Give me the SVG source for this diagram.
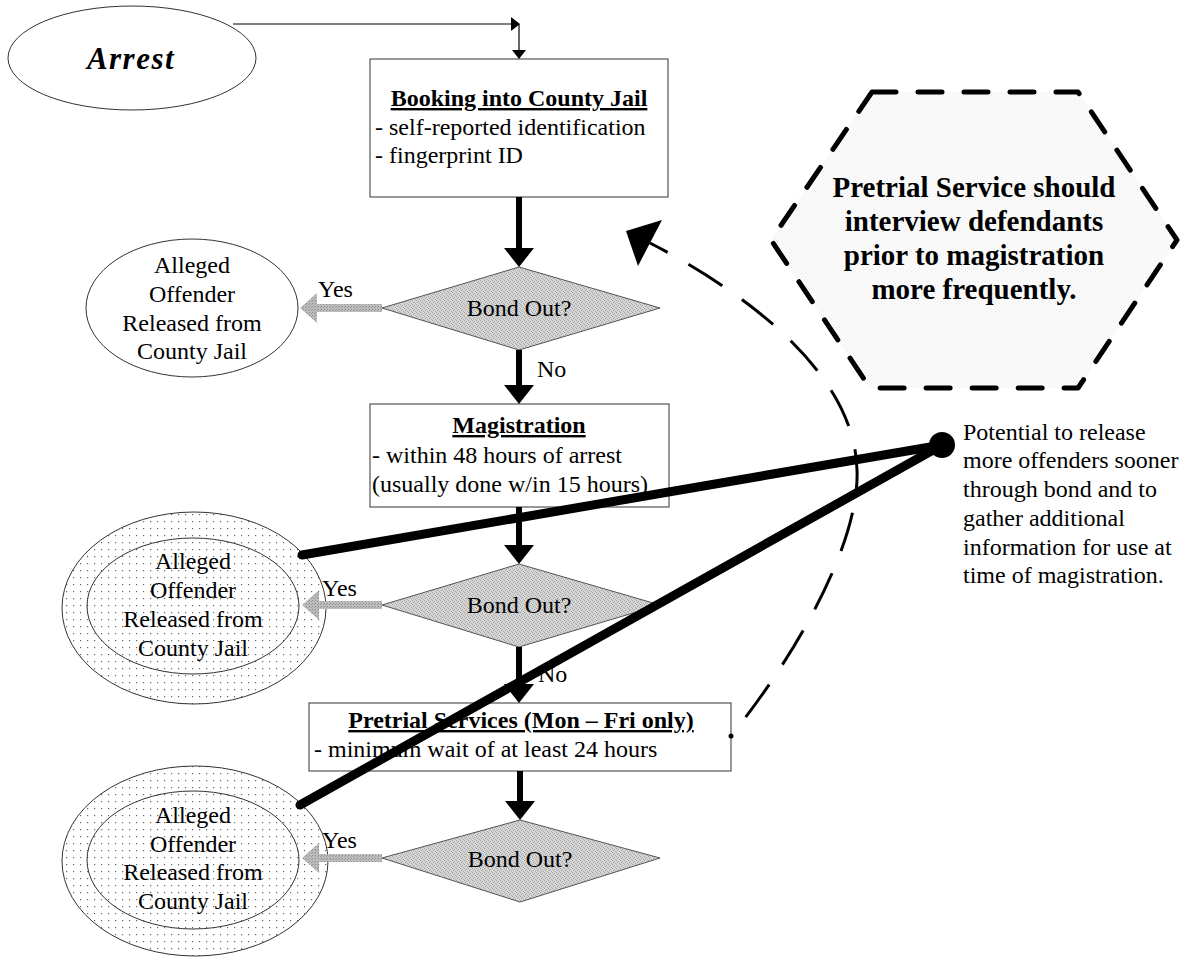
<svg xmlns="http://www.w3.org/2000/svg" width="1191" height="957" viewBox="0 0 1191 957">
<defs>
<style>
text{font-family:"Liberation Serif","Times New Roman",serif;fill:#000}
.t24{font-size:24px}
.b24{font-size:24px;font-weight:bold;text-decoration:underline}
.box{fill:#fff;stroke:#555;stroke-width:1.2}
.ell{fill:#fff;stroke:#333;stroke-width:1}
.dia{fill:url(#stip);stroke:#555;stroke-width:1}
.thin{stroke:#000;stroke-width:1.2;fill:none}
.thick{stroke:#000;stroke-width:6;fill:none}
.yes{fill:url(#stipY)}
.diag{stroke:#000;stroke-width:9;stroke-linecap:round;fill:none}
.c{text-anchor:middle}
.hx{font-size:29px;font-weight:bold}
</style>
<pattern id="dots" width="7" height="7" patternUnits="userSpaceOnUse">
<rect width="7" height="7" fill="#fff"/>
<rect x="3" y="3" width="1.2" height="1.2" fill="#666"/>
</pattern>
<pattern id="stip" width="4" height="4" patternUnits="userSpaceOnUse">
<rect width="4" height="4" fill="#d6d6d6"/>
<rect x="0" y="0" width="1" height="1" fill="#a0a0a0"/>
<rect x="2" y="1" width="1" height="1" fill="#aaa"/>
<rect x="1" y="2" width="1" height="1" fill="#a0a0a0"/>
<rect x="3" y="3" width="1" height="1" fill="#aaa"/>
</pattern>
<pattern id="stipY" width="3" height="3" patternUnits="userSpaceOnUse">
<rect width="3" height="3" fill="#bdbdbd"/>
<rect x="0" y="0" width="1" height="1" fill="#8c8c8c"/>
<rect x="2" y="1" width="1" height="1" fill="#999"/>
</pattern>
<pattern id="light" width="4" height="4" patternUnits="userSpaceOnUse">
<rect width="4" height="4" fill="#fbfbfb"/>
<rect x="1" y="1" width="1" height="1" fill="#e6e6e6"/>
<rect x="3" y="3" width="1" height="1" fill="#ececec"/>
</pattern>
<marker id="hThin" markerUnits="userSpaceOnUse" markerWidth="9" markerHeight="14" viewBox="0 0 9 14" refX="0" refY="7" orient="auto">
<path d="M0,0 L9,7 L0,14 z" fill="#000"/>
</marker>
<marker id="hThick" markerUnits="userSpaceOnUse" markerWidth="19" markerHeight="30" viewBox="0 0 19 30" refX="0" refY="15" orient="auto">
<path d="M0,0 L19,15 L0,30 z" fill="#000"/>
</marker>
</defs>
<rect width="1191" height="957" fill="#fff"/>

<g id="arrest">
<ellipse class="ell" cx="132" cy="58" rx="124" ry="52"/>
<text x="131" y="69" class="c" style="font-size:31px;font-weight:bold;font-style:italic;letter-spacing:1.5px">Arrest</text>
</g>

<g id="booking">
<rect class="box" x="370" y="59" width="298" height="138"/>
<text x="519" y="106" class="b24 c">Booking into County Jail</text>
<text x="375" y="135" class="t24">- self-reported identification</text>
<text x="375" y="163" class="t24">- fingerprint ID</text>
</g>

<g id="bond1">
<polygon class="dia" points="519,267 660,308 519,350 382,308"/>
<text x="519" y="316" class="t24 c">Bond Out?</text>
</g>

<g id="released1">
<ellipse class="ell" cx="192" cy="308" rx="106" ry="69"/>
<text x="192" y="273" class="t24 c">Alleged</text>
<text x="192" y="302" class="t24 c">Offender</text>
<text x="192" y="331" class="t24 c">Released from</text>
<text x="192" y="359" class="t24 c">County Jail</text>
</g>

<g id="magistration">
<rect class="box" x="370" y="404" width="299" height="103"/>
<text x="519" y="433" class="b24 c">Magistration</text>
<text x="372" y="463" class="t24">- within 48 hours of arrest</text>
<text x="372" y="492" class="t24">(usually done w/in 15 hours)</text>
</g>

<g id="bond2">
<polygon class="dia" points="519,564 660,605 519,647 382,605"/>
<text x="519" y="613" class="t24 c">Bond Out?</text>
</g>

<g id="released2">
<ellipse cx="194" cy="608" rx="132" ry="96" fill="url(#dots)" stroke="#333" stroke-width="1"/>
<ellipse cx="193" cy="606" rx="106" ry="68" fill="url(#dots)" stroke="#333" stroke-width="1"/>
<text x="193" y="569" class="t24 c">Alleged</text>
<text x="193" y="598" class="t24 c">Offender</text>
<text x="193" y="627" class="t24 c">Released from</text>
<text x="193" y="656" class="t24 c">County Jail</text>
</g>

<g id="pretrial">
<rect class="box" x="309" y="703" width="422" height="68"/>
<text x="521" y="728" class="b24 c">Pretrial Services (Mon – Fri only)</text>
<text x="314" y="757" class="t24">- minimum wait of at least 24 hours</text>
<circle cx="731" cy="736" r="2.5" fill="#000"/>
</g>

<g id="bond3">
<polygon class="dia" points="520,820 660,858 520,902 382,858"/>
<text x="520" y="867" class="t24 c">Bond Out?</text>
</g>

<g id="released3">
<ellipse cx="195" cy="861" rx="133" ry="95" fill="url(#dots)" stroke="#333" stroke-width="1"/>
<ellipse cx="193" cy="860" rx="106" ry="69" fill="url(#dots)" stroke="#333" stroke-width="1"/>
<text x="193" y="823" class="t24 c">Alleged</text>
<text x="193" y="852" class="t24 c">Offender</text>
<text x="193" y="880" class="t24 c">Released from</text>
<text x="193" y="909" class="t24 c">County Jail</text>
</g>

<g id="recommendation">
<polygon points="872,92 1078,92 1177,240 1078,388 870,388 771,240" fill="url(#light)" stroke="#000" stroke-width="5" stroke-dasharray="24 22" stroke-linecap="round" stroke-linejoin="round"/>
<text x="974" y="197" class="c hx">Pretrial Service should</text>
<text x="974" y="231" class="c hx">interview defendants</text>
<text x="974" y="265" class="c hx">prior to magistration</text>
<text x="974" y="299" class="c hx">more frequently.</text>
</g>

<g id="potential">
<text x="963" y="440" class="t24">Potential to release</text>
<text x="963" y="468" class="t24">more offenders sooner</text>
<text x="963" y="497" class="t24">through bond and to</text>
<text x="963" y="526" class="t24">gather additional</text>
<text x="963" y="555" class="t24">information for use at</text>
<text x="963" y="583" class="t24">time of magistration.</text>
</g>

<g id="connectors">
<path class="thin" d="M233,24 H511" marker-end="url(#hThin)"/>
<path class="thin" d="M519,24 V50" marker-end="url(#hThin)"/>
<path class="thick" d="M519,197 V248" marker-end="url(#hThick)"/>
<path class="thick" d="M519,350 V385" marker-end="url(#hThick)"/>
<path class="thick" d="M519,507 V545" marker-end="url(#hThick)"/>
<path class="thick" d="M519,647 V684" marker-end="url(#hThick)"/>
<path class="thick" d="M520,771 V801" marker-end="url(#hThick)"/>
<polygon class="yes" points="382,304 317,304 317,293 300,308 317,323 317,312 382,312"/>
<polygon class="yes" points="382,601 319,601 319,590 302,605 319,620 319,609 382,609"/>
<polygon class="yes" points="382,854 319,854 319,843 302,858 319,873 319,862 382,862"/>
<text x="318" y="297" class="t24">Yes</text>
<text x="537" y="377" class="t24">No</text>
<text x="322" y="596" class="t24">Yes</text>
<text x="538" y="682" class="t24">No</text>
<text x="322" y="848" class="t24">Yes</text>
<path d="M731,736 C800,650 860,540 857,470 C855,380 760,300 650,243" fill="none" stroke="#000" stroke-width="3" stroke-dasharray="40 24" stroke-dashoffset="40"/>
<polygon points="626,231 662,220 638,266" fill="#000"/>
<path class="diag" d="M302,555 L942,445"/>
<path class="diag" d="M300,805 L942,445"/>
<circle cx="942" cy="445" r="13" fill="#000"/>
</g>
</svg>
